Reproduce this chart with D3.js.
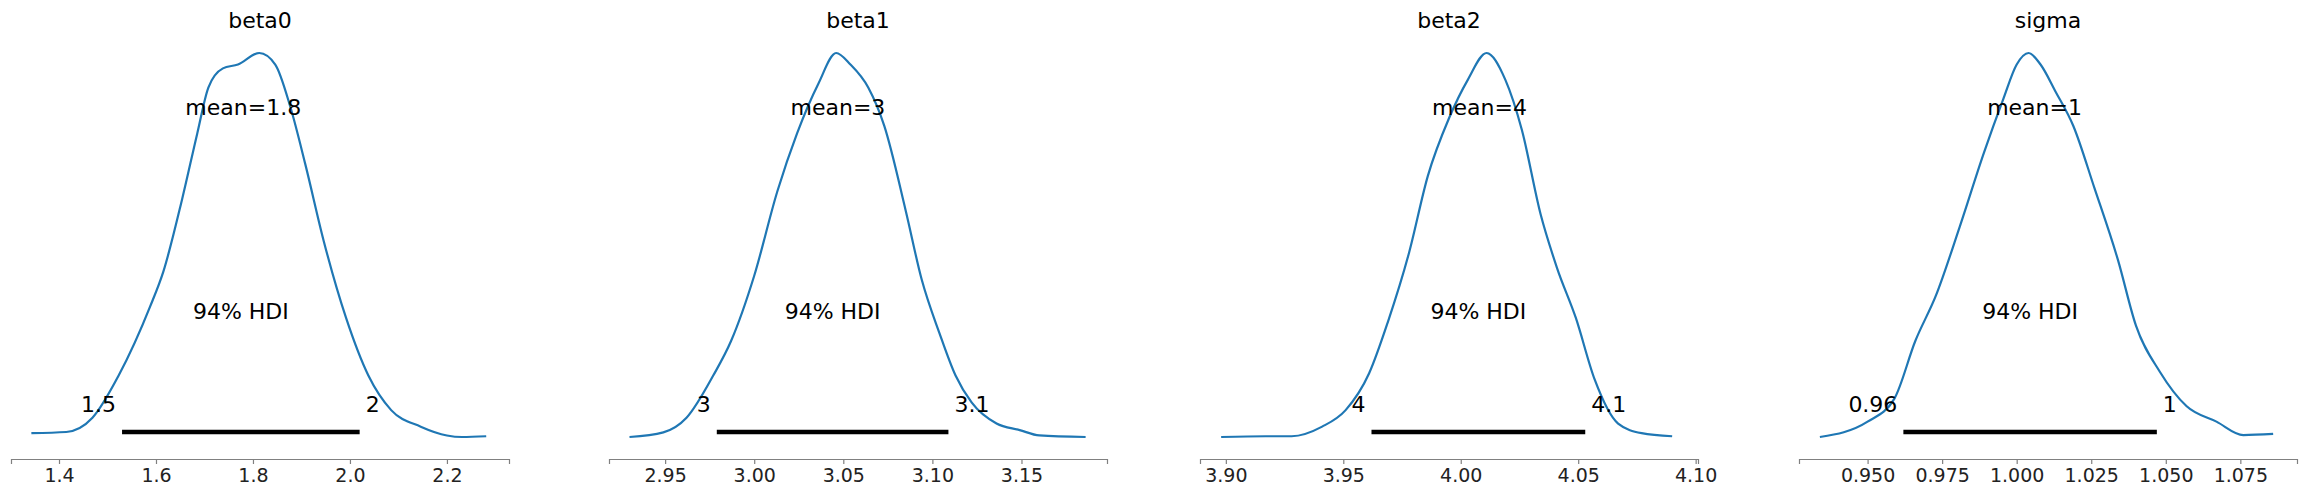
<!DOCTYPE html>
<html>
<head>
<meta charset="utf-8">
<script src="https://cdn.jsdelivr.net/npm/d3@7"></script>
<style>
  body { margin: 0; background: #fff; }
  text { font-family: "DejaVu Sans", sans-serif; }
</style>
</head>
<body>
<svg width="2301" height="497"></svg>
<script>
// parameter names
const names = ["beta0", "beta1", "beta2", "sigma"];
// axis domains per panel
const domains = [[1.301, 2.328], [2.9185, 3.198], [3.889, 4.101], [0.927, 1.094]];
const tickValues = [
  [1.4, 1.6, 1.8, 2.0, 2.2],
  [2.95, 3.00, 3.05, 3.10, 3.15],
  [3.90, 3.95, 4.00, 4.05, 4.10],
  [0.950, 0.975, 1.000, 1.025, 1.050, 1.075]
];
const tickFormats = [".1f", ".2f", ".2f", ".3f"];
const means = [1.78, 3.047, 4.008, 1.006];
const meanLabels = ["mean=1.8", "mean=3", "mean=4", "mean=1"];
const hdiLow = [1.53, 2.979, 3.962, 0.962];
const hdiHigh = [2.02, 3.109, 4.053, 1.047];
const hdiLowLabels = ["1.5", "3", "4", "0.96"];
const hdiHighLabels = ["2", "3.1", "4.1", "1"];

// relative density curves, [x, density]
const kde0 = [[1.343,0.01],[1.415,0.013],[1.469,0.05],[1.523,0.16],[1.588,0.34],[1.615,0.43],[1.654,0.62],[1.685,0.79],[1.708,0.91],[1.738,0.96],[1.769,0.97],[1.813,1.0],[1.846,0.97],[1.877,0.86],[1.908,0.71],[1.946,0.51],[1.992,0.31],[2.038,0.16],[2.085,0.07],[2.146,0.027],[2.2,0.004],[2.231,0.0],[2.281,0.002]];
const kde1 = [[2.930,0.0],[2.949,0.012],[2.962,0.05],[2.977,0.16],[2.987,0.25],[3.000,0.42],[3.013,0.64],[3.024,0.79],[3.036,0.92],[3.046,1.0],[3.054,0.97],[3.064,0.91],[3.073,0.81],[3.085,0.59],[3.094,0.41],[3.104,0.27],[3.113,0.16],[3.122,0.09],[3.136,0.035],[3.149,0.018],[3.160,0.004],[3.186,0.0]];
const kde2 = [[3.898,0.0],[3.917,0.002],[3.928,0.002],[3.941,0.027],[3.951,0.07],[3.961,0.166],[3.969,0.30],[3.978,0.48],[3.986,0.68],[3.995,0.83],[4.003,0.93],[4.011,1.0],[4.019,0.93],[4.026,0.80],[4.034,0.58],[4.041,0.44],[4.049,0.31],[4.057,0.15],[4.067,0.035],[4.077,0.01],[4.090,0.002]];
const kde3 = [[0.934,0.0],[0.950,0.04],[0.959,0.1],[0.966,0.25],[0.973,0.37],[0.981,0.55],[0.989,0.74],[0.9955,0.88],[1.000,0.97],[1.004,1.0],[1.008,0.97],[1.013,0.90],[1.019,0.81],[1.026,0.65],[1.034,0.46],[1.040,0.29],[1.048,0.17],[1.057,0.08],[1.067,0.04],[1.076,0.005],[1.086,0.008]];
const kdes = [kde0, kde1, kde2, kde3];

const svg = d3.select("svg");
const panelX = [11, 609, 1200, 1799];
const panelW = 498;
const axisY = 459;
const y = d3.scaleLinear().domain([0, 1]).range([437, 53]);

names.forEach((name, i) => {
  const x = d3.scaleLinear().domain(domains[i]).range([panelX[i], panelX[i] + panelW]);
  const g = svg.append("g");

  // x axis
  const axis = g.append("g")
      .attr("transform", `translate(0,${axisY})`)
      .call(d3.axisBottom(x).tickValues(tickValues[i]).tickFormat(d3.format(tickFormats[i]))
        .tickSize(5).tickPadding(5));
  axis.select(".domain").attr("stroke", "#808080").attr("stroke-width", 1.2);
  axis.selectAll(".tick line").attr("stroke", "#808080").attr("stroke-width", 1.2);
  axis.selectAll(".tick text").attr("font-size", 19).attr("fill", "#222");

  // density curve
  g.append("path")
      .datum(kdes[i])
      .attr("fill", "none")
      .attr("stroke", "#1f77b4")
      .attr("stroke-width", 2.2)
      .attr("d", d3.line().x(d => x(d[0])).y(d => y(d[1])).curve(d3.curveMonotoneX));

  // HDI bar
  g.append("line")
      .attr("x1", x(hdiLow[i])).attr("x2", x(hdiHigh[i]))
      .attr("y1", 432).attr("y2", 432)
      .attr("stroke", "black").attr("stroke-width", 4.5);

  g.append("text")
      .attr("x", x(hdiLow[i]) - 6).attr("y", 412)
      .attr("text-anchor", "end").attr("font-size", 22)
      .text(hdiLowLabels[i]);
  g.append("text")
      .attr("x", x(hdiHigh[i]) + 6).attr("y", 412)
      .attr("text-anchor", "start").attr("font-size", 22)
      .text(hdiHighLabels[i]);

  g.append("text")
      .attr("x", x((hdiLow[i] + hdiHigh[i]) / 2)).attr("y", 319)
      .attr("text-anchor", "middle").attr("font-size", 22)
      .text("94% HDI");

  g.append("text")
      .attr("x", x(means[i])).attr("y", 115)
      .attr("text-anchor", "middle").attr("font-size", 22)
      .text(meanLabels[i]);

  // title
  g.append("text")
      .attr("x", panelX[i] + panelW / 2).attr("y", 28)
      .attr("text-anchor", "middle").attr("font-size", 22)
      .text(name);
});
</script>
</body>
</html>
